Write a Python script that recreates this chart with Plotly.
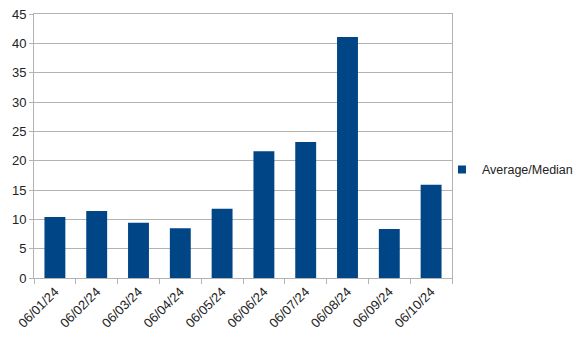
import plotly.graph_objects as go

dates = ["06/01/24", "06/02/24", "06/03/24", "06/04/24", "06/05/24",
         "06/06/24", "06/07/24", "06/08/24", "06/09/24", "06/10/24"]
values = [10.4, 11.4, 9.4, 8.5, 11.8, 21.6, 23.2, 41.1, 8.35, 15.9]
series_name = "Average/Median"
y_ticks = [0, 5, 10, 15, 20, 25, 30, 35, 40, 45]
bar_color = "#004586"

fig = go.Figure()
fig.add_trace(go.Bar(x=dates, y=values, name=series_name,
                     marker=dict(color=bar_color, line=dict(width=0)),
                     showlegend=False))
# legend entry (small square like the reference)
fig.add_trace(go.Scatter(x=[None], y=[None], mode="markers", name=series_name,
                         marker=dict(symbol="square", size=8, color=bar_color),
                         showlegend=True))

grid = "#b3b3b3"
fig.update_layout(
    width=583, height=341,
    margin=dict(l=34, r=131, t=14, b=63, autoexpand=False),
    paper_bgcolor="white", plot_bgcolor="white",
    bargap=0.5,
    font=dict(family="Liberation Sans, Arial, sans-serif", size=13, color="#222"),
    showlegend=True,
    legend=dict(x=0.976, y=0.41, xanchor="left", yanchor="middle",
                font=dict(size=12.5, color="#222"), itemwidth=30,
                bgcolor="rgba(0,0,0,0)"),
    xaxis=dict(type="category", tickangle=-45, tickson="boundaries",
               ticks="outside", ticklen=5, tickcolor=grid,
               showline=True, linecolor=grid, linewidth=1, mirror=True,
               showgrid=False),
    yaxis=dict(range=[0, 45], tickvals=y_ticks, ticks="outside", ticklen=4,
               tickcolor=grid, showgrid=True, gridcolor=grid, gridwidth=1,
               showline=True, linecolor=grid, linewidth=1, mirror=True,
               zeroline=False),
)
fig.write_html("out.html")
